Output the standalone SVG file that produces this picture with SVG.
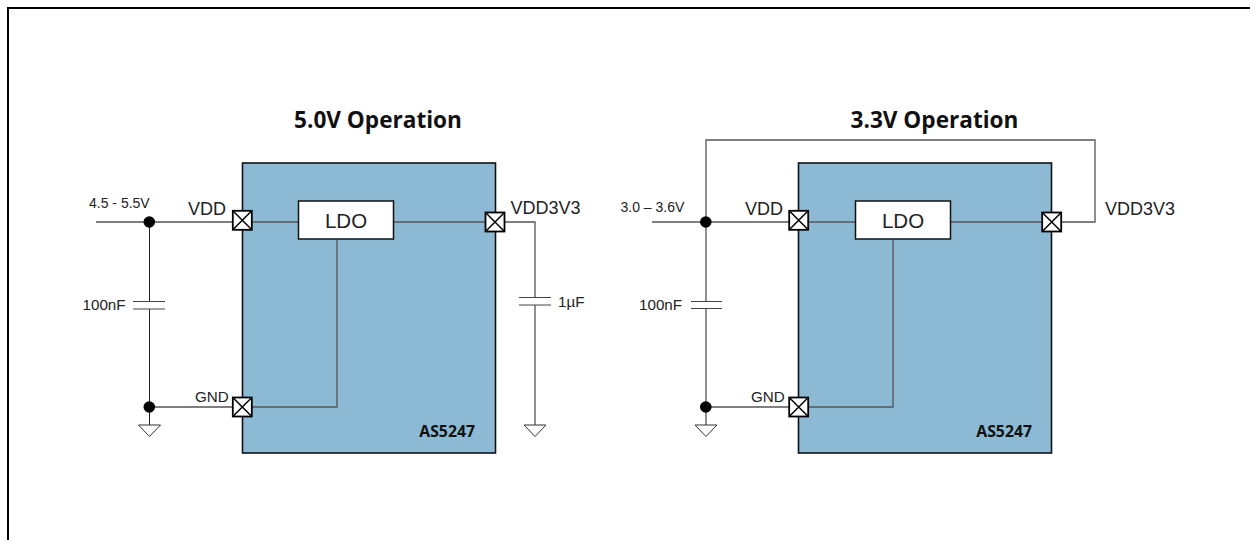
<svg xmlns="http://www.w3.org/2000/svg" width="1250" height="540" viewBox="0 0 1250 540">
<style>
text{font-family:"Liberation Sans",Arial,sans-serif;fill:#222}
.t{font-family:"Open Sans",sans-serif;font-size:22.6px;font-weight:700;fill:#111;text-anchor:middle}
.p{font-size:18px}
.s{font-size:15.2px}
.v{font-size:14px}
.l{font-size:20.5px;text-anchor:middle}
.n{font-family:"Open Sans",sans-serif;font-size:15.800px;font-weight:700;fill:#111;text-anchor:end}
.chip{fill:#8cbad4;stroke:#111;stroke-width:1.6}
.ldo{fill:#fff;stroke:#111;stroke-width:1.5}
.w{fill:none;stroke:#555;stroke-width:1.3}
.b{fill:none;stroke:#222;stroke-width:1}
.g{fill:#fff;stroke:#333;stroke-width:1}
.c{fill:none;stroke:#444;stroke-width:1.2}
.pad{fill:#fff;stroke:#000;stroke-width:1.8}
</style>
<defs>
<g id="x"><rect class="pad" x="-9.500" y="-9.500" width="19" height="19"/><path d="M-9 -9L9 9M9 -9L-9 9" stroke="#000" stroke-width="1.5"/></g>
<path id="gnd" class="g" d="M-11 0H11L0 11.500Z"/>
</defs>
<path d="M8 540V8H1250" fill="none" stroke="#000" stroke-width="2"/>
<g id="left-chip"><rect class="chip" x="242.500" y="163" width="253" height="290"/><text class="n" x="475" y="437">AS5247</text></g>
<g id="right-chip"><rect class="chip" x="798.500" y="163" width="253" height="290"/><text class="n" x="1032" y="437">AS5247</text></g>
<g id="connectors">
<path class="w" d="M96 222H299M393 222H535V297M535 305V425M337 240V407H242M149 407H242"/>
<path class="b" d="M149.500 222V301.500M149.500 309V425"/>
<path class="c" d="M133 301.500H165M133 309H165M519 297.500H551M519 305H551"/>
<path class="w" d="M652 222H855M949 222H1095V140H706V301.500M706 308.500V425M706 407H798M893 240V407H798"/>
<path class="c" d="M691 301.500H722M691 308.500H722"/>
</g>
<g id="gnd1"><use href="#gnd" x="149.500" y="425"/></g>
<g id="gnd2"><use href="#gnd" x="535" y="425"/></g>
<g id="gnd3"><use href="#gnd" x="706" y="425"/></g>
<g id="dots"><circle cx="149.300" cy="222" r="5.800"/><circle cx="149.300" cy="407" r="5.800"/><circle cx="705.800" cy="222" r="5.800"/><circle cx="705.800" cy="407" r="5.800"/></g>
<g id="ldo1"><rect class="ldo" x="298.500" y="201" width="95" height="38"/><text class="l" x="346" y="227.500">LDO</text></g>
<g id="ldo2"><rect class="ldo" x="855.500" y="201" width="95" height="38"/><text class="l" x="903" y="227.500">LDO</text></g>
<g id="pads"><use href="#x" x="242.300" y="220.300"/><use href="#x" x="495" y="222"/><use href="#x" x="242.300" y="407"/><use href="#x" x="798.700" y="220.300"/><use href="#x" x="1051.700" y="222"/><use href="#x" x="798.700" y="407"/></g>
<text class="t" x="378" y="128">5.0V Operation</text>
<text class="t" x="934.500" y="128">3.3V Operation</text>
<text class="v" x="89" y="208">4.5 - 5.5V</text>
<text class="v" x="620.500" y="212">3.0 – 3.6V</text>
<text class="p" x="188" y="214.500">VDD</text>
<text class="p" x="745" y="214.500">VDD</text>
<text class="s" x="195" y="402">GND</text>
<text class="s" x="751" y="402">GND</text>
<text class="p" x="510.500" y="214">VDD3V3</text>
<text class="p" x="1105" y="214.500">VDD3V3</text>
<text class="s" x="82.500" y="310">100nF</text>
<text class="s" x="639" y="310">100nF</text>
<text class="s" x="558" y="306.500">1µF</text>
</svg>
